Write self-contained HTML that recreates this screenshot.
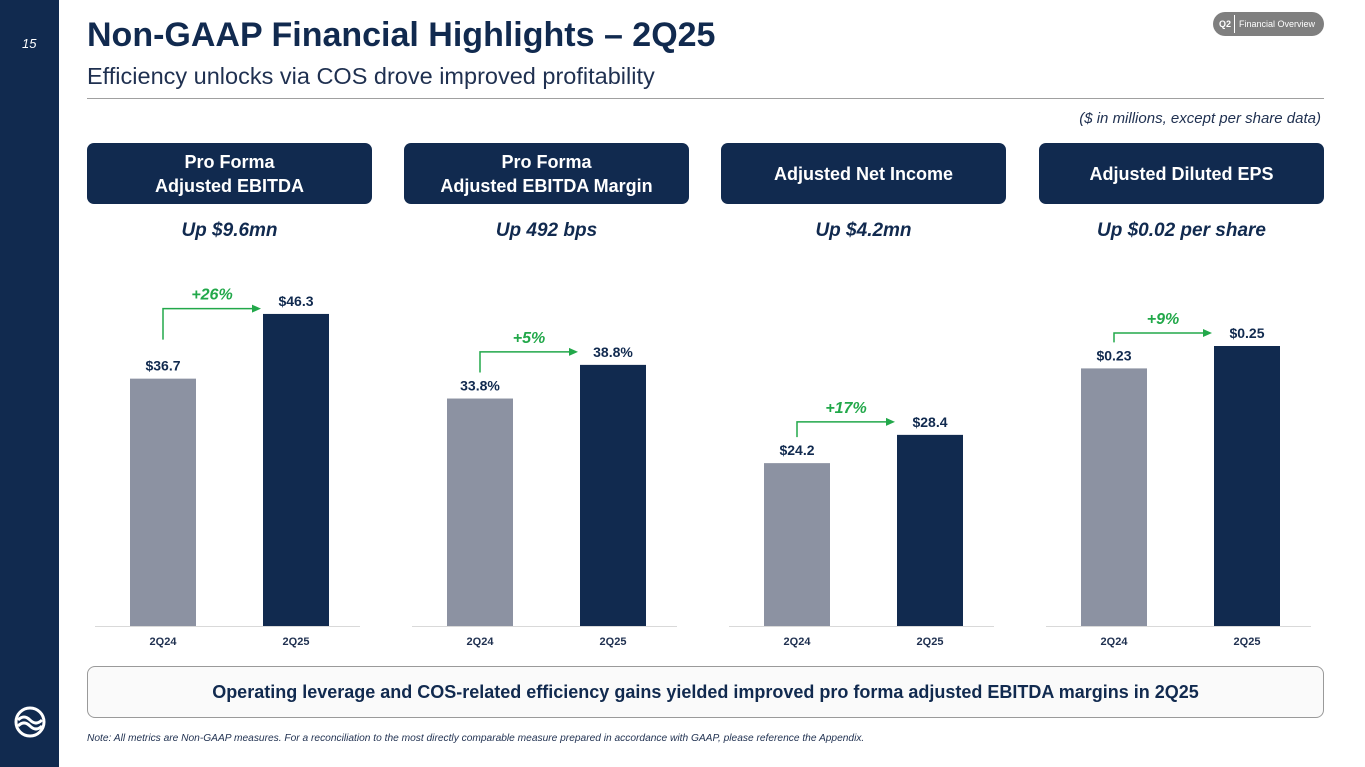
<!DOCTYPE html>
<html><head><meta charset="utf-8"><style>
body{margin:0;width:1365px;height:767px;position:relative;background:#fff;font-family:"Liberation Sans",Arial,sans-serif;overflow:hidden}
.abs{position:absolute;white-space:nowrap}
.hdr{position:absolute;top:143px;width:285px;height:61px;background:#112a4f;border-radius:7px;color:#fff;font-weight:bold;font-size:18px;display:flex;align-items:center;justify-content:center;text-align:center;line-height:24px}
.up{position:absolute;top:220px;width:285px;text-align:center;font-weight:bold;font-style:italic;font-size:19px;color:#112a4f}
</style></head><body>
<div class="abs" style="left:0;top:0;width:59px;height:767px;background:#112a4f"></div>
<div class="abs" style="left:22px;top:36px;color:#fff;font-style:italic;font-size:13px">15</div>
<svg class="abs" style="left:13px;top:705px" width="34" height="34" viewBox="0 0 34 34">
<circle cx="17" cy="17" r="14" fill="none" stroke="#fff" stroke-width="3"/>
<path d="M5 15 Q11 9 17 15 T29 15" fill="none" stroke="#fff" stroke-width="3"/>
<path d="M5 21 Q11 15 17 21 T29 21" fill="none" stroke="#fff" stroke-width="3"/>
</svg>
<div class="abs" style="left:87px;top:16px;font-size:34px;font-weight:bold;color:#112a4f">Non-GAAP Financial Highlights – 2Q25</div>
<div class="abs" style="left:87px;top:63px;font-size:23.5px;color:#1f3050">Efficiency unlocks via COS drove improved profitability</div>
<div class="abs" style="left:87px;top:98px;width:1237px;height:1px;background:#a0a0a0"></div>
<div class="abs" style="left:1213px;top:12px;width:111px;height:24px;border-radius:12px;background:#7f7f7f;color:#fff;font-size:9px;line-height:24px">
<span style="position:absolute;left:6px;font-weight:bold">Q2</span><span style="position:absolute;left:21px;top:3px;width:1px;height:18px;background:#fff"></span><span style="position:absolute;left:26px;white-space:nowrap">Financial Overview</span></div>
<div class="abs" style="right:44px;top:110px;font-size:15px;font-style:italic;color:#1f3050">($ in millions, except per share data)</div>

<div class="hdr" style="left:87px">Pro Forma<br>Adjusted EBITDA</div>
<div class="hdr" style="left:404px">Pro Forma<br>Adjusted EBITDA Margin</div>
<div class="hdr" style="left:721px">Adjusted Net Income</div>
<div class="hdr" style="left:1039px">Adjusted Diluted EPS</div>
<div class="up" style="left:87px">Up $9.6mn</div>
<div class="up" style="left:404px">Up 492 bps</div>
<div class="up" style="left:721px">Up $4.2mn</div>
<div class="up" style="left:1039px">Up $0.02 per share</div>

<svg class="abs" id="charts" style="left:0;top:0" width="1365" height="767"></svg>

<div class="abs" style="left:87px;top:666px;width:1235px;height:50px;border:1.5px solid #9a9a9a;border-radius:8px;background:#fafafa;color:#112a4f;font-weight:bold;font-size:18px;text-align:center;line-height:50px">Operating leverage and COS-related efficiency gains yielded improved pro forma adjusted EBITDA margins in 2Q25</div>
<div class="abs" style="left:87px;top:733px;font-size:10.2px;font-style:italic;color:#1f3050">Note: All metrics are Non-GAAP measures. For a reconciliation to the most directly comparable measure prepared in accordance with GAAP, please reference the Appendix.</div>
<script>
const categories=["2Q24","2Q25"];
const ebitda=[36.7,46.3];
const margin=[33.8,38.8];
const netIncome=[24.2,28.4];
const eps=[0.23,0.25];
const valueLabels=[["$36.7","$46.3"],["33.8%","38.8%"],["$24.2","$28.4"],["$0.23","$0.25"]];
const growthLabels=["+26%","+5%","+17%","+9%"];
const series=[ebitda,margin,netIncome,eps];
const scales=[6.74,6.73,6.73,1120];
const NS="http://www.w3.org/2000/svg";
const svg=document.getElementById('charts');
function mk(t,a){const e=document.createElementNS(NS,t);for(const k in a)e.setAttribute(k,a[k]);svg.appendChild(e);return e;}
const base=626,barW=66;
series.forEach((vals,p)=>{
  const x0=95+p*317;
  const yS=v=>base-v*scales[p];
  const xS=i=>x0+35+i*133;
  const ax=mk('line',{x1:x0,x2:x0+265,y1:base+0.5,y2:base+0.5,stroke:'#d9d9d9','stroke-width':1});
  
  
  const tops=[];
  vals.forEach((v,i)=>{
    const y=yS(v);tops.push(y);
    const r=mk('rect',{x:xS(i),y:y,width:barW,height:base-y,fill:i?'#112a4f':'#8c92a2'});
    
    
    const t=mk('text',{x:xS(i)+barW/2,y:y-8,'text-anchor':'middle','font-size':14,'font-weight':'bold',fill:'#112a4f'});
    t.textContent=valueLabels[p][i];
    
    
    const c=mk('text',{x:xS(i)+barW/2,y:645,'text-anchor':'middle','font-size':11,'font-weight':'bold',fill:'#1f3050'});
    c.textContent=categories[i];
    
    
  });
  const ay=Math.max(tops[1]-13,tops[0]-70);
  const lx=xS(0)+barW/2, rx=xS(1)-2;
  const g=mk('path',{d:`M${lx} ${Math.min(tops[0]-26,ay+31)} V${ay} H${rx-8}`,fill:'none',stroke:'#22a84a','stroke-width':1.5});
  
  
  const h=mk('path',{d:`M${rx} ${ay} L${rx-9} ${ay-4} L${rx-9} ${ay+4}Z`,fill:'#22a84a'});
  
  
  const gt=mk('text',{x:(lx+rx)/2,y:ay-9,'text-anchor':'middle','font-size':16,'font-weight':'bold','font-style':'italic',fill:'#22a84a'});
  gt.textContent=growthLabels[p];
  
  
});
</script>
</body></html>
